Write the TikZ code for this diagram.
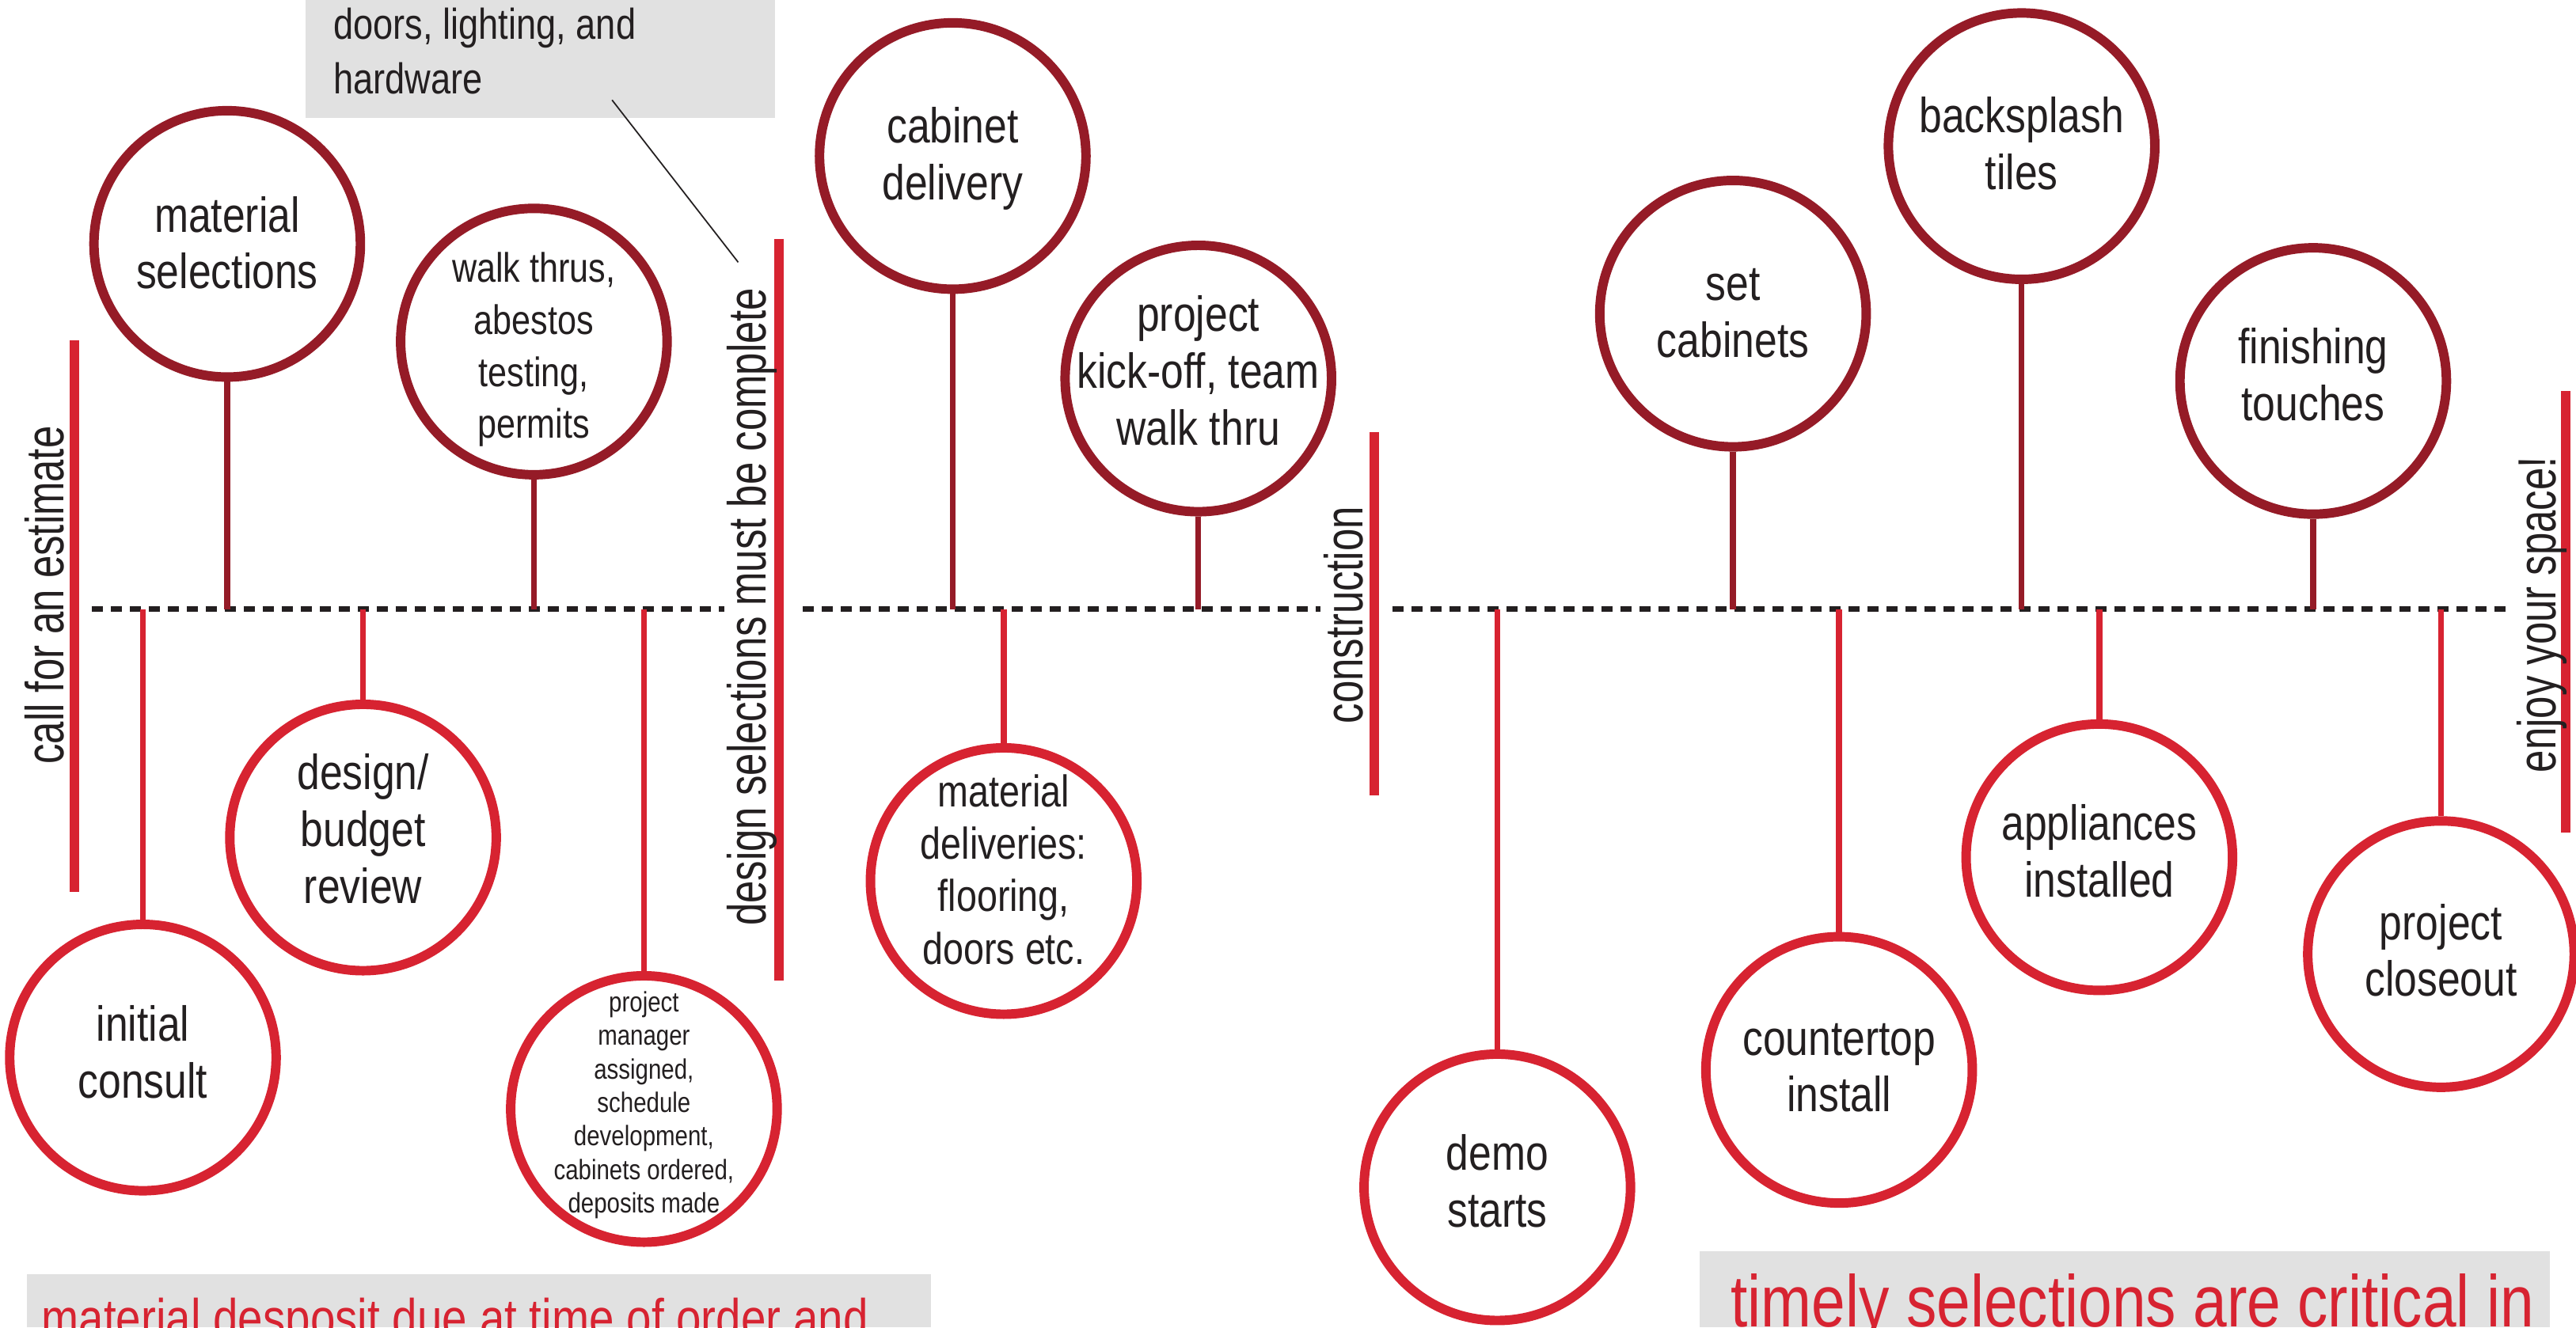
\documentclass[tikz,border=0pt]{standalone}
\usepackage{fontspec}
\setmainfont{Liberation Sans}[FakeStretch=0.83]
\newfontfamily\lblfont{Liberation Sans}[FakeStretch=0.75]
\definecolor{dkred}{HTML}{951B27}
\definecolor{rd}{HTML}{D72331}
\definecolor{gry}{HTML}{E1E1E1}
\definecolor{ink}{HTML}{231F20}
\begin{document}
\begin{tikzpicture}[x=0.02075cm,y=-0.02075cm,
  circ/.style={circle, line width=3.4pt, minimum size=3.366cm, inner sep=0pt, fill=white},
  topc/.style={circ, draw=dkred},
  botc/.style={circ, draw=rd},
  ctext/.style={anchor=base, align=center, inner sep=0pt, text=ink, font=\fontsize{17.7}{20.4}\selectfont},
  stemT/.style={draw=dkred, line width=2.1pt},
  stemB/.style={draw=rd, line width=2.1pt},
  phasebar/.style={draw=rd, line width=3.4pt},
  timeline/.style={draw=ink, line width=2pt, dash pattern=on 0.14cm off 0.10cm},
  vlabel/.style={rotate=90, anchor=base, inner sep=0pt, text=ink, font=\lblfont\fontsize{19.3}{22}\selectfont},
  leader/.style={draw=ink, line width=0.5pt}
]
\useasboundingbox (0,0) rectangle (1568.2,808.2);
\clip (0,0) rectangle (1568.2,808.2);

% grey note boxes
\fill[gry] (185.9,0) rectangle (472,71.6);
\fill[gry] (16.2,775.8) rectangle (566.7,808.2);
\fill[gry] (1034.5,762) rectangle (1552.5,808.2);
\node[anchor=base west, align=left, inner sep=0pt, text=ink, font=\fontsize{15.5}{19.5}\selectfont] (note1) at (202.7,57) {doors, lighting, and\\hardware};
\node[anchor=base west, inner sep=0pt, text=rd, font=\fontsize{19.4}{23}\selectfont] (note2) at (25,814) {material desposit due at time of order and};
\node[anchor=base west, inner sep=0pt, text=rd, font=\fontsize{26.3}{30}\selectfont] (note3) at (1053.4,808) {timely selections are critical in};
\coordinate (lead1) at (372.6,60.9);
\coordinate (lead2) at (449.4,159.7);
\draw[leader] (lead1) -- (lead2);

% timeline segments
\coordinate (L1a) at (55.9,371); \coordinate (L1b) at (441,371);
\coordinate (L2a) at (488.7,371); \coordinate (L2b) at (804,371);
\coordinate (L3a) at (847.7,371); \coordinate (L3b) at (1526,371);
\draw[timeline] (L1a) -- (L1b);
\draw[timeline] (L2a) -- (L2b);
\draw[timeline] (L3a) -- (L3b);

% phase bars and labels
\coordinate (B1a) at (45.5,207); \coordinate (B1b) at (45.5,543);
\coordinate (B2a) at (474.4,145.4); \coordinate (B2b) at (474.4,597);
\coordinate (B3a) at (836.4,263); \coordinate (B3b) at (836.4,484.4);
\coordinate (B4a) at (1562,238); \coordinate (B4b) at (1562,507);
\draw[phasebar] (B1a) -- (B1b);
\draw[phasebar] (B2a) -- (B2b);
\draw[phasebar] (B3a) -- (B3b);
\draw[phasebar] (B4a) -- (B4b);
\node[vlabel] (lb1) at (38.6,362.4) {call for an estimate};
\node[vlabel] (lb2) at (466.5,369.5) {design selections must be complete};
\node[vlabel] (lb3) at (829.7,374.6) {construction};
\node[vlabel] (lb4) at (1555.7,374.3) {enjoy your space!};

% top circles
\node[topc] (ms) at (138.3,148.5) {};
\node[topc] (wt) at (325,208) {};
\node[topc] (cd) at (580,95) {};
\node[topc] (ko) at (729.5,230.5) {};
\node[topc] (sc) at (1055,191) {};
\node[topc] (bs) at (1230.7,89) {};
\node[topc] (ft) at (1408.2,232) {};

% bottom circles
\node[botc] (ic) at (87,644) {};
\node[botc] (db) at (221,510) {};
\node[botc] (pm) at (392,675.3) {};
\node[botc] (md) at (611,536.5) {};
\node[botc] (ds) at (911.5,723) {};
\node[botc] (ci) at (1119.6,651.5) {};
\node[botc] (ai) at (1278,522) {};
\node[botc] (pc) at (1486,581) {};

% timeline points
\coordinate (tms) at (138.3,371);
\coordinate (twt) at (325,371);
\coordinate (tcd) at (580,371);
\coordinate (tko) at (729.5,371);
\coordinate (tsc) at (1055,371);
\coordinate (tbs) at (1230.7,371);
\coordinate (tft) at (1408.2,371);
\coordinate (tic) at (87,371);
\coordinate (tdb) at (221,371);
\coordinate (tpm) at (392,371);
\coordinate (tmd) at (611,371);
\coordinate (tds) at (911.5,371);
\coordinate (tci) at (1119.6,371);
\coordinate (tai) at (1278,371);
\coordinate (tpc) at (1486,371);

% stems
\draw[stemT] (ms.south) -- (tms);
\draw[stemT] (wt.south) -- (twt);
\draw[stemT] (cd.south) -- (tcd);
\draw[stemT] (ko.south) -- (tko);
\draw[stemT] (sc.south) -- (tsc);
\draw[stemT] (bs.south) -- (tbs);
\draw[stemT] (ft.south) -- (tft);
\draw[stemB] (tic) -- (ic.north);
\draw[stemB] (tdb) -- (db.north);
\draw[stemB] (tpm) -- (pm.north);
\draw[stemB] (tmd) -- (md.north);
\draw[stemB] (tds) -- (ds.north);
\draw[stemB] (tci) -- (ci.north);
\draw[stemB] (tai) -- (ai.north);
\draw[stemB] (tpc) -- (pc.north);

% circle texts (anchor base = baseline of last line)
\node[ctext] (ms-t) at (138.3,175.8) {material\\selections};
\node[ctext, font=\fontsize{14.8}{18.66}\selectfont] (wt-t) at (325,266.8) {walk thrus,\\abestos\\testing,\\permits};
\node[ctext] (cd-t) at (580,121.5) {cabinet\\delivery};
\node[ctext] (ko-t) at (729.5,271) {project\\kick-off, team\\walk thru};
\node[ctext] (sc-t) at (1055,217.5) {set\\cabinets};
\node[ctext] (bs-t) at (1230.7,115.3) {backsplash\\tiles};
\node[ctext] (ft-t) at (1408.2,256) {finishing\\touches};
\node[ctext] (ic-t) at (87,668.5) {initial\\consult};
\node[ctext] (db-t) at (221,550) {design/\\budget\\review};
\node[ctext, font=\fontsize{10.1}{12.05}\selectfont] (pm-t) at (392,738.6) {project\\manager\\assigned,\\schedule\\development,\\cabinets ordered,\\deposits made};
\node[ctext, font=\fontsize{16}{18.8}\selectfont] (md-t) at (611,587) {material\\deliveries:\\flooring,\\doors etc.};
\node[ctext] (ds-t) at (911.5,747.3) {demo\\starts};
\node[ctext] (ci-t) at (1119.6,677) {countertop\\install};
\node[ctext] (ai-t) at (1278,546.3) {appliances\\installed};
\node[ctext] (pc-t) at (1486,606.6) {project\\closeout};
\end{tikzpicture}
\end{document}
